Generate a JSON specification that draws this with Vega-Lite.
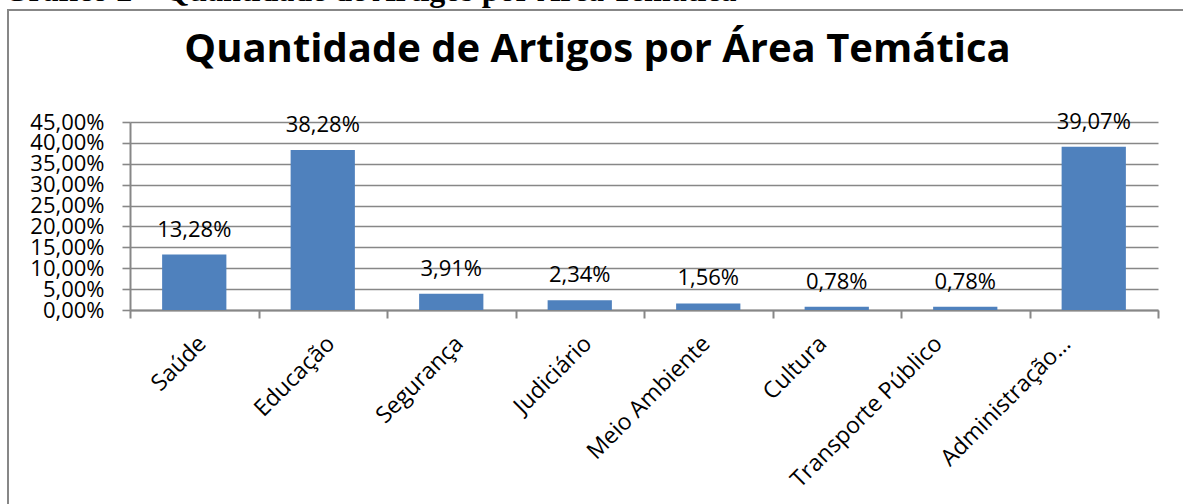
{
  "$schema": "https://vega.github.io/schema/vega-lite/v6.json",
  "autosize": {"type": "none"},
  "padding": {"left": 8, "top": 10, "right": -12, "bottom": -16},
  "width": 1187,
  "height": 510,
  "background": "white",
  "data": {
    "values": [
      {"area": "Saúde", "pct": 0.1328},
      {"area": "Educação", "pct": 0.3828},
      {"area": "Segurança", "pct": 0.0391},
      {"area": "Judiciário", "pct": 0.0234},
      {"area": "Meio Ambiente", "pct": 0.0156},
      {"area": "Cultura", "pct": 0.0078},
      {"area": "Transporte Público", "pct": 0.0078},
      {"area": "Administração…", "pct": 0.3907}
    ]
  },
  "encoding": {
    "x": {
      "field": "area",
      "type": "nominal",
      "sort": null,
      "scale": {"range": [122, 1150], "paddingInner": 0, "paddingOuter": 0},
      "axis": {
        "orient": "bottom",
        "offset": -210,
        "title": "Quantidade de Artigos por Área Temática",
        "titleX": 589,
        "titleY": -249,
        "titleAlign": "center",
        "titleBaseline": "alphabetic",
        "titleFont": "Open Sans",
        "titleFontSize": 40,
        "titleFontWeight": "bold",
        "titleColor": "black",
        "tickBand": "extent",
        "labelAngle": -45,
        "labelAlign": "right",
        "labelBaseline": "top",
        "labelPadding": 14,
        "labelLimit": 0,
        "labelOverlap": false,
        "labelFont": "Open Sans",
        "labelFontSize": 23,
        "labelColor": "black",
        "labelOffset": {
          "condition": [
            {"test": "datum.value === 'Meio Ambiente'", "value": -10},
            {"test": "datum.value === 'Cultura'", "value": -22},
            {"test": "datum.value === 'Transporte Público'", "value": -35},
            {"test": "datum.value === 'Administração…'", "value": -35}
          ],
          "value": 0
        },
        "tickSize": 8,
        "tickWidth": 2,
        "tickColor": "#878787",
        "domainColor": "#878787",
        "domainWidth": 2,
        "grid": false
      }
    },
    "y": {
      "field": "pct",
      "type": "quantitative",
      "scale": {"domain": [0, 0.45], "range": [300, 112], "nice": false, "zero": true},
      "axis": {
        "orient": "left",
        "offset": -122,
        "values": [0, 0.05, 0.1, 0.15, 0.2, 0.25, 0.3, 0.35, 0.4, 0.45],
        "format": ".2%",
        "grid": true,
        "gridColor": "#878787",
        "gridWidth": 1.6,
        "domainColor": "#878787",
        "domainWidth": 2,
        "tickColor": "#878787",
        "tickWidth": 1.6,
        "tickSize": 8,
        "labelPadding": 18,
        "labelFont": "Open Sans",
        "labelFontSize": 22,
        "labelColor": "black",
        "labelOverlap": false,
        "labelFlush": false,
        "title": "Gráfico 2 – Quantidade de Artigos por Área Temática",
        "titleAngle": 0,
        "titleX": -127,
        "titleY": -10,
        "titleAlign": "left",
        "titleBaseline": "alphabetic",
        "titleFont": "Liberation Serif",
        "titleFontSize": 32,
        "titleFontWeight": "bold",
        "titleColor": "black"
      }
    }
  },
  "layer": [
    {"mark": {"type": "bar", "width": {"band": 0.5}, "color": "#4F81BD"}},
    {
      "mark": {"type": "text", "dy": -18, "baseline": "alphabetic", "font": "Open Sans", "fontSize": 22, "color": "black"},
      "encoding": {"text": {"field": "pct", "type": "quantitative", "format": ".2%"}}
    }
  ],
  "config": {
    "locale": {"number": {"decimal": ",", "thousands": ".", "grouping": [3], "currency": ["R$", ""]}},
    "view": {"stroke": "#878787", "strokeWidth": 2}
  }
}
